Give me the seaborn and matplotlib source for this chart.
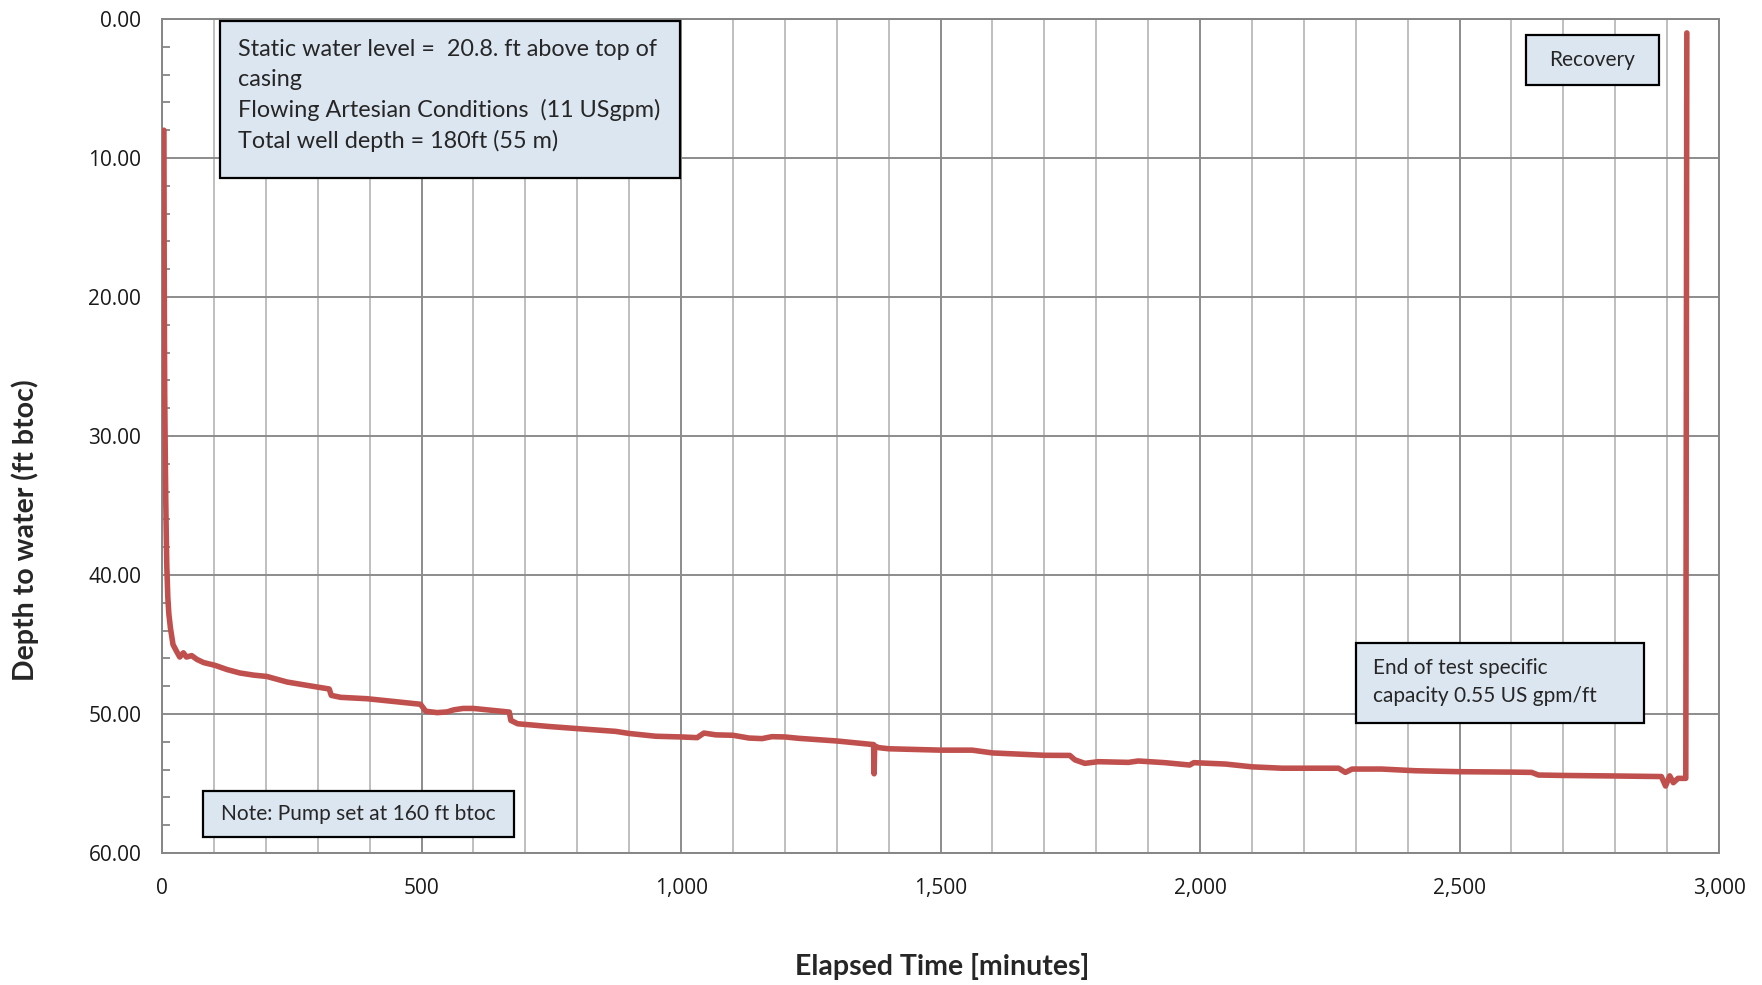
import matplotlib
matplotlib.use("Agg")
import matplotlib.pyplot as plt
import matplotlib.ticker as mticker
from matplotlib.patches import Rectangle
import seaborn as sns
import pandas as pd

# Pumping test record: elapsed time (minutes) and depth to water (ft below top of casing)
elapsed_min = [
    3.5, 4.0, 4.5, 5.0, 6.0, 7.0, 8.0, 9.0, 11.0, 13.0, 16.0, 21.0, 28.0, 34.0,
    41.0, 47.0, 57.0, 67.0, 80.0, 102.0, 125.0, 150.0, 176.0, 202.0, 241.0,
    273.0, 299.0, 322.0, 326.0, 344.0, 395.0, 447.0, 498.0, 508.0, 530.0,
    549.0, 562.0, 580.0, 600.0, 637.0, 669.0, 672.0, 685.0, 746.0, 800.0,
    874.0, 900.0, 951.0, 1000.0, 1031.0, 1044.0, 1067.0, 1100.0, 1131.0,
    1156.0, 1175.0, 1200.0, 1227.0, 1300.0, 1365.0, 1371.0, 1372.0, 1373.0,
    1381.0, 1400.0, 1500.0, 1561.0, 1600.0, 1700.0, 1749.0, 1759.0, 1778.0,
    1804.0, 1862.0, 1881.0, 1932.0, 1980.0, 1988.0, 2049.0, 2100.0, 2158.0,
    2267.0, 2280.0, 2293.0, 2350.0, 2414.0, 2500.0, 2600.0, 2639.0, 2652.0,
    2700.0, 2803.0, 2889.0, 2897.0, 2905.0, 2912.0, 2921.0, 2934.0, 2936.0,
    2938.0,
]
depth_ft = [
    8.0, 17.0, 23.0, 27.0, 31.0, 34.5, 37.0, 39.3, 41.6, 42.8, 43.8, 45.0,
    45.5, 45.9, 45.6, 45.9, 45.8, 46.07, 46.3, 46.5, 46.8, 47.05, 47.2, 47.3,
    47.7, 47.9, 48.06, 48.2, 48.66, 48.8, 48.9, 49.1, 49.3, 49.8, 49.9, 49.85,
    49.7, 49.6, 49.6, 49.74, 49.86, 50.46, 50.7, 50.9, 51.05, 51.25, 51.4,
    51.6, 51.65, 51.7, 51.37, 51.5, 51.53, 51.73, 51.77, 51.63, 51.65, 51.75,
    51.94, 52.18, 52.2, 54.3, 52.3, 52.42, 52.5, 52.6, 52.6, 52.8, 52.97,
    52.98, 53.3, 53.55, 53.43, 53.48, 53.38, 53.5, 53.67, 53.5, 53.6, 53.8,
    53.9, 53.9, 54.2, 53.96, 53.96, 54.08, 54.15, 54.18, 54.2, 54.39, 54.42,
    54.46, 54.5, 55.18, 54.45, 54.94, 54.63, 54.63, 54.63, 1.0,
]

x_ticks = [0, 500, 1000, 1500, 2000, 2500, 3000]
y_ticks = [0, 10, 20, 30, 40, 50, 60]

info_text = ("Static water level =  20.8. ft above top of\ncasing\n"
             "Flowing Artesian Conditions  (11 USgpm)\n"
             "Total well depth = 180ft (55 m)")
recovery_text = "Recovery"
capacity_text = "End of test specific\ncapacity 0.55 US gpm/ft"
pump_text = "Note: Pump set at 160 ft btoc"

df = pd.DataFrame({"elapsed": elapsed_min, "depth": depth_ft})

sns.set_style("white")
plt.rcParams["font.family"] = ["Lato", "DejaVu Sans"]

fig = plt.figure(figsize=(17.62, 9.85), dpi=100)
ax = fig.add_axes([0.092, 0.134, 0.8836, 0.8467])

line_red = "#C0504D"
sns.lineplot(data=df, x="elapsed", y="depth", estimator=None, sort=False,
             color=line_red, linewidth=4.0, ax=ax, zorder=3)

ax.set_xlim(0, 3000)
ax.set_ylim(60, 0)
ax.set_xticks(x_ticks)
ax.set_yticks(y_ticks)
ax.xaxis.set_minor_locator(mticker.MultipleLocator(100))
ax.yaxis.set_minor_locator(mticker.MultipleLocator(2))
ax.xaxis.set_major_formatter(mticker.FuncFormatter(lambda v, p: f"{int(v):,}"))
ax.yaxis.set_major_formatter(mticker.FuncFormatter(lambda v, p: f"{v:.2f}"))

ax.grid(False)
ax.grid(True, axis="x", which="minor", color="#BFBFBF", linewidth=1.4, zorder=0)
ax.grid(True, axis="x", which="major", color="#8C8C8C", linewidth=1.4, zorder=0)
ax.grid(True, axis="y", which="major", color="#8C8C8C", linewidth=1.4, zorder=0)
ax.set_axisbelow(True)

for side in ["left", "right", "top", "bottom"]:
    ax.spines[side].set_color("#868686")
    ax.spines[side].set_linewidth(1.4)

ax.tick_params(axis="both", which="major", direction="out", length=7,
               width=1.3, color="#868686", pad=8, labelsize=15,
               labelcolor="#1a1a1a", labelfontfamily="Open Sans")
ax.tick_params(axis="x", which="major", pad=11)
ax.tick_params(axis="x", which="minor", length=0)
ax.tick_params(axis="y", which="minor", direction="in", length=6,
               width=1.3, color="#868686", left=True)

ax.set_xlabel("Elapsed Time [minutes]", fontsize=20.5, fontweight="bold",
              va="center")
ax.xaxis.set_label_coords(942 / 1762, 1 - 966 / 985, transform=fig.transFigure)
ax.set_ylabel("Depth to water (ft btoc)", fontsize=20.5, fontweight="bold",
              va="center")
ax.yaxis.set_label_coords(25 / 1762, 1 - 530 / 985, transform=fig.transFigure)

box_face = "#DCE6F1"


def note_box(x0, y0, x1, y1):
    ax.add_patch(Rectangle((x0, y0), x1 - x0, y1 - y0, transform=ax.transAxes,
                           facecolor=box_face, edgecolor="black",
                           linewidth=1.6, zorder=5, clip_on=False))


note_box(0.0373, 0.8094, 0.3327, 0.9976)
ax.text(0.0488, 0.976, info_text, transform=ax.transAxes, ha="left", va="top",
        fontsize=16.8, linespacing=1.5, zorder=6)

note_box(0.876, 0.921, 0.9615, 0.981)
ax.text(0.9187, 0.951, recovery_text, transform=ax.transAxes, ha="center",
        va="center", fontsize=15, zorder=6)

note_box(0.767, 0.156, 0.952, 0.252)
ax.text(0.778, 0.205, capacity_text, transform=ax.transAxes, ha="left",
        va="center", fontsize=15, linespacing=1.5, zorder=6)

note_box(0.0263, 0.0192, 0.226, 0.0743)
ax.text(0.126, 0.047, pump_text, transform=ax.transAxes, ha="center",
        va="center", fontsize=15, zorder=6)

fig.savefig("out.png", dpi=100)
